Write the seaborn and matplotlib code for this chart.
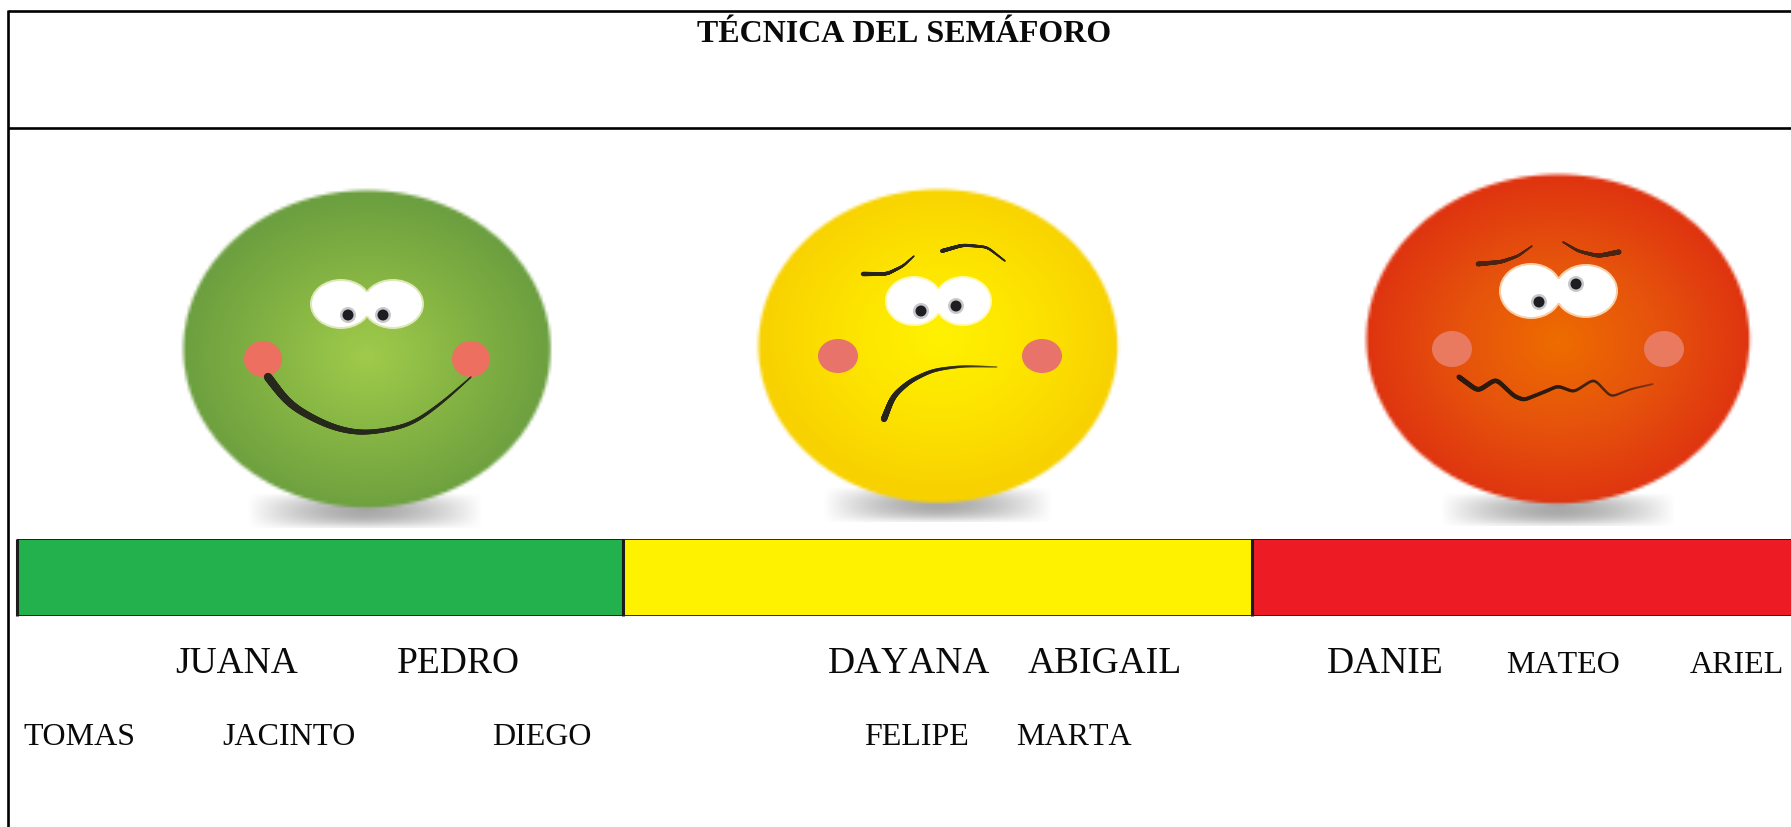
import matplotlib
matplotlib.use('Agg')
import matplotlib.pyplot as plt
import numpy as np
import seaborn as sns
from matplotlib.collections import LineCollection
from matplotlib.colors import to_rgb
from matplotlib.patches import Ellipse

W, H = 1791, 828

titulo = 'TÉCNICA DEL SEMÁFORO'
nombres_grandes = ['JUANA', 'PEDRO', 'DAYANA', 'ABIGAIL', 'DANIE']
nombres_chicos = ['MATEO', 'ARIEL', 'TOMAS', 'JACINTO', 'DIEGO', 'FELIPE', 'MARTA']

tramos = [606.5, 629.5, 540.0]
colores_tramos = ['#22B14C', '#FFF200', '#ED1C24']

sns.set_theme(style='white')
plt.rcParams['font.family'] = ['Liberation Serif', 'DejaVu Serif']
plt.rcParams['text.kerning_factor'] = 20  # el original no tiene kerning

fig = plt.figure(figsize=(W / 100, H / 100), dpi=100, facecolor='white')
ax = fig.add_axes([0, 0, 1, 1])


def cara(cx, cy, rx, ry, gx, gy, stops):
    # circulo con degradado radial, a baja resolucion como el original
    xs = np.arange(cx - rx - 6, cx + rx + 6, 3.0)
    ys = np.arange(cy - ry - 6, cy + ry + 6, 3.0)
    X, Y = np.meshgrid(xs, ys)
    d = np.clip(np.hypot((X - gx) / rx, (Y - gy) / ry), 0, 1)
    img = np.zeros(X.shape + (4,))
    pos = np.linspace(0, 1, len(stops))
    rgb = np.array([to_rgb(c) for c in stops])
    for i in range(3):
        img[..., i] = np.interp(d, pos, rgb[:, i])
    e = np.hypot((X - cx) / rx, (Y - cy) / ry)
    img[..., 3] = np.clip((1 - e) * min(rx, ry) / 3 + 0.5, 0, 1)
    ax.imshow(img, extent=(xs[0], xs[-1], ys[-1], ys[0]), origin='upper',
              aspect='auto', interpolation='bilinear', zorder=3)


def sombra(cx, cy, rx, ry):
    xs = np.arange(cx - rx, cx + rx, 2.0)
    ys = np.arange(cy - ry, cy + ry, 2.0)
    X, Y = np.meshgrid(xs, ys)
    img = np.zeros(X.shape + (4,))
    img[..., :3] = 0.66
    a = np.clip(1 - np.abs((X - cx) / rx) ** 1.6, 0, 1)
    b = np.clip(1 - np.abs((Y - cy) / ry) ** 2.2, 0, 1)
    img[..., 3] = a * b
    ax.imshow(img, extent=(xs[0], xs[-1], ys[-1], ys[0]), origin='upper',
              aspect='auto', interpolation='bilinear', zorder=2)


def trazo(puntos, w0, w1, color='#26241c', a0=1.0, a1=1.0, suave=25):
    # linea suavizada con grosor variable (boca y cejas)
    p = np.array(puntos, dtype=float)
    t = np.linspace(0, 1, len(p))
    tt = np.linspace(0, 1, 240)
    x = np.interp(tt, t, p[:, 0])
    y = np.interp(tt, t, p[:, 1])
    k = np.ones(suave) / suave
    m = suave // 2
    for _ in range(3):
        x[m:-m] = np.convolve(x, k, mode='valid')
        y[m:-m] = np.convolve(y, k, mode='valid')
    seg = np.stack([np.c_[x[:-1], y[:-1]], np.c_[x[1:], y[1:]]], axis=1)
    rgba = np.tile(to_rgb(color) + (1.0,), (len(seg), 1))
    rgba[:, 3] = np.linspace(a0, a1, len(seg))
    ax.add_collection(LineCollection(seg, linewidths=np.linspace(w0, w1, len(seg)),
                                     colors=rgba, capstyle='round', zorder=6))


def mancha(x, y, rx, ry, color, z=4):
    ax.add_patch(Ellipse((x, y), 2 * rx, 2 * ry, facecolor=color,
                         edgecolor='none', lw=0, zorder=z))


def ojos(izq, der, pup1, pup2, halo):
    for (x, y, rx, ry) in (izq, der):
        mancha(x, y, rx + 1, ry + 1, halo, z=4)
    for (x, y, rx, ry) in (izq, der):
        mancha(x, y, rx - 1, ry - 1, 'white', z=5)
    # union entre los dos ojos
    mancha((izq[0] + der[0]) / 2, izq[1], 15, 12, 'white', z=5)
    for (x, y) in (pup1, pup2):
        mancha(x, y, 8, 8, '#c9c9cc', z=5.5)
        mancha(x, y, 5.5, 5.5, '#1d1d22', z=5.6)


# cara verde
sombra(365, 512, 118, 19)
cara(366.5, 350.5, 185, 160, 367, 357, ['#A0CB4A', '#86B544', '#6C9F3F'])
ojos((341, 305, 30, 24), (393, 305, 30, 24), (348, 316), (383, 316), '#DCE8B8')
mancha(263, 360, 19, 18, '#EC6F5F')
mancha(471, 360, 19, 18, '#EC6F5F')
trazo([(268, 378), (290, 407), (330, 428), (363, 435), (410, 427), (443, 403), (471, 378)],
      6.0, 1.0, color='#26281c')

# cara amarilla
sombra(938, 506, 115, 19)
cara(938, 347, 181, 158, 940, 337, ['#FFF200', '#FDE400', '#F8D100'])
ojos((914, 302, 28, 24), (963, 302, 28, 24), (921, 312), (956, 307), '#FFF9B0')
mancha(838, 357, 20, 17, '#E8736A')
mancha(1042, 357, 20, 17, '#E8736A')
trazo([(884, 420), (893, 397), (910, 382), (933, 371), (963, 367), (997, 368)],
      4.5, 1.0, a0=1.0, a1=0.35)
trazo([(863, 275), (887, 275), (903, 267), (914, 257)], 3.2, 1.0, a1=0.6)
trazo([(942, 252), (963, 246), (987, 248), (1005, 262)], 2.8, 1.2, a1=0.6)

# cara roja
sombra(1558, 511, 118, 18)
cara(1557.5, 340, 193, 166, 1558, 343, ['#EE6C00', '#E6540C', '#DF3410'])
ojos((1531, 292, 31, 27), (1586, 292, 31, 26), (1539, 303), (1576, 285), '#F8CFA8')
mancha(1452, 350, 20, 18, '#E97A60')
mancha(1664, 350, 20, 18, '#E97A60')
trazo([(1459, 378), (1478, 392), (1496, 380), (1514, 397), (1524, 401), (1544, 393),
       (1558, 387), (1574, 393), (1594, 380), (1611, 398), (1631, 390), (1653, 385)],
      3.6, 1.4, color='#2c1a10', a1=0.25, suave=7)
trazo([(1478, 265), (1501, 263), (1518, 257), (1532, 247)], 3.4, 1.0, color='#4a2412', a1=0.7)
trazo([(1563, 243), (1578, 252), (1598, 257), (1619, 253)], 1.2, 3.6, color='#4a2412', a0=0.7)

# recuadro
ax.hlines([11.5, 129], 8, W, color='black', lw=1.9, zorder=1)
ax.vlines(8, 11, H, color='black', lw=1.9, zorder=1)

# textos
ax.text(904, 42, titulo, fontsize=23, fontweight='bold', ha='center', va='baseline', color='#0a0a0a')
pos_grandes = [(175, 673), (397, 673), (828, 673), (1028, 673), (1327, 673)]
pos_chicos = [(1506, 673), (1690, 673), (23, 745), (222, 745), (492, 745), (864, 745), (1016, 745)]
for nombre, (x, y) in zip(nombres_grandes, pos_grandes):
    ax.text(x, y, nombre, fontsize=27, ha='left', va='baseline', color='#0a0a0a')
for nombre, (x, y) in zip(nombres_chicos, pos_chicos):
    ax.text(x, y, nombre, fontsize=23, ha='left', va='baseline', color='#0a0a0a')

ax.set_xlim(0, W)
ax.set_ylim(H, 0)
ax.axis('off')

# barra del semaforo: acumulados, del mas largo al mas corto
barra_x0, barra_y0, barra_y1 = 16.5, 540, 617
ax_bar = fig.add_axes([barra_x0 / W, 1 - barra_y1 / H, 1 - barra_x0 / W, (barra_y1 - barra_y0) / H])
acumulado = np.cumsum(tramos)
for valor, col in list(zip(acumulado, colores_tramos))[::-1]:
    sns.barplot(x=[valor], y=['semaforo'], color=col, saturation=1, width=1,
                edgecolor='#111111', linewidth=1.2, errorbar=None, orient='y', ax=ax_bar)
ax_bar.set_xlim(0, W - barra_x0)
ax_bar.set_ylim(0.5, -0.5)
# los separadores verticales son mas gruesos que el contorno
ax_bar.vlines([0, acumulado[0], acumulado[1]], -0.5, 0.5, color='#1c1c1c', lw=2.2, clip_on=False, zorder=5)
ax_bar.axis('off')

fig.savefig('out.png', dpi=100)
plt.close(fig)
